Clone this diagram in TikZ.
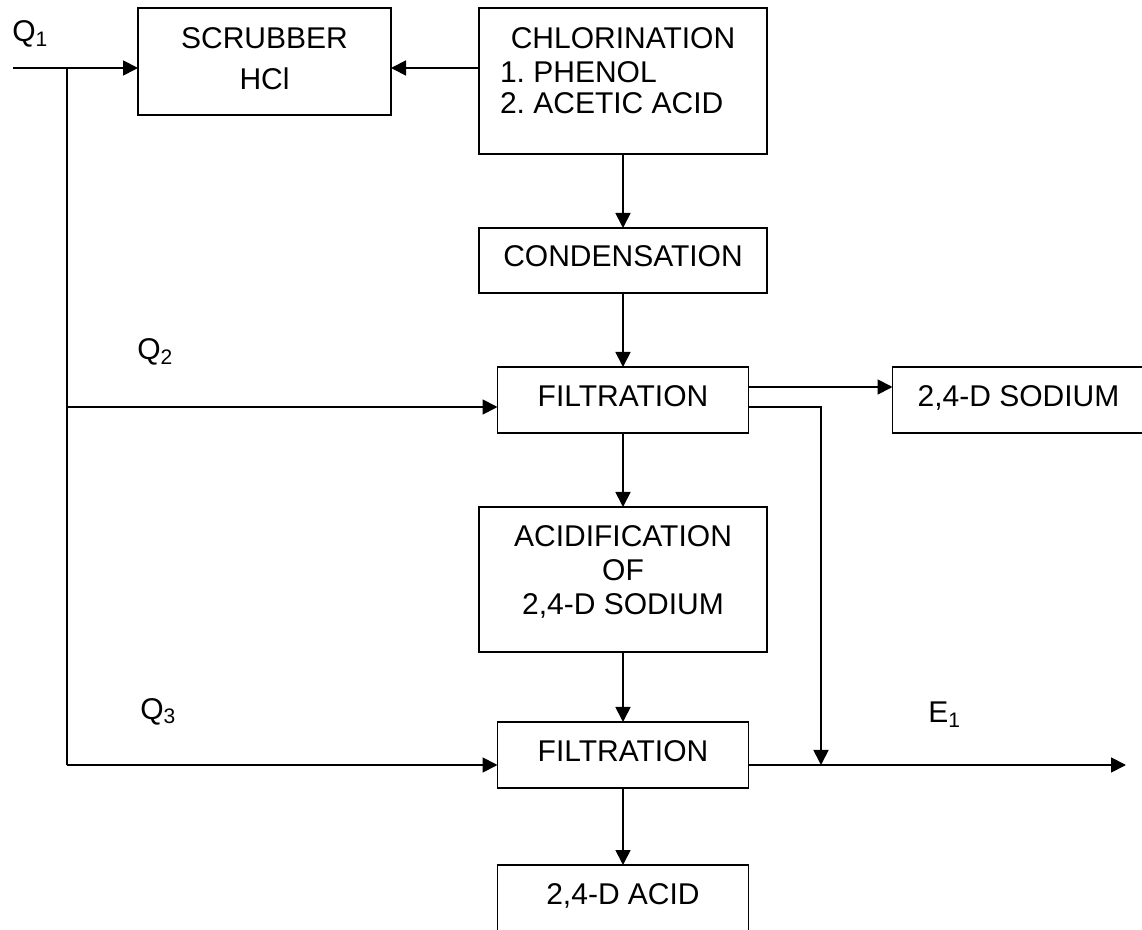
\documentclass[tikz,border=0pt]{standalone}
\usepackage{fontspec}
\setmainfont{Liberation Sans}
\usetikzlibrary{arrows.meta,positioning}
\frenchspacing

\begin{document}
\begin{tikzpicture}[
    x=0.5pt, y=-0.5pt,
    node distance=37pt,
    font=\fontsize{15pt}{17pt}\selectfont,
    block/.style={rectangle, draw, line width=0.9pt, outer sep=0pt, inner sep=0pt, align=center, text depth=4.25pt},
    wide/.style={minimum width=144pt},
    narrow/.style={minimum width=125.5pt, minimum height=33pt},
    arrow/.style={-{Triangle[length=7.5pt,width=7.5pt]}, line width=0.9pt},
    line/.style={line width=0.9pt},
    flow/.style={inner sep=0pt, anchor=base west}
]
    \useasboundingbox (0,0) rectangle (1142,930);
    \clip (0,0) rectangle (1142,930);

    \node[block, wide, minimum height=73pt, text depth=10.75pt] (chlor) at (623,81)
        {CHLORINATION\\\makebox[123pt][l]{1. PHENOL}\\[-1.5pt]\makebox[123pt][l]{2. ACETIC ACID}};
    \node[block, minimum width=126.5pt, minimum height=53.5pt, text depth=3.25pt,
          left=44pt of chlor.north west, anchor=north east] (scrub) {SCRUBBER\\[3.5pt]HCl};
    \node[block, wide, minimum height=32.5pt, below=of chlor] (cond) {CONDENSATION};
    \node[block, narrow, below=of cond] (filt1) {FILTRATION};
    \node[block, narrow, minimum width=126pt, right=72pt of filt1] (sodium) {2,4-D SODIUM};
    \node[block, wide, minimum height=72.5pt, text depth=9.75pt, below=of filt1] (acidif)
        {ACIDIFICATION\\OF\\2,4-D SODIUM};
    \node[block, narrow, below=35pt of acidif] (filt2) {FILTRATION};
    \node[block, narrow, below=38.5pt of filt2] (acid) {2,4-D ACID};

    % feed water
    \coordinate (q1in) at (13,68);
    \coordinate (jtop) at (67,68);
    \coordinate (jq2) at (67,407);
    \coordinate (jq3) at (67,765);
    \coordinate (drop) at (821,765);
    \coordinate (e1out) at (1126,765);

    \node[flow] (q1) at (12,42) {Q\textsubscript{1}};
    \node[flow] (q2) at (137,360) {Q\textsubscript{2}};
    \node[flow] (q3) at (140,719) {Q\textsubscript{3}};
    \node[flow] (e1) at (928,723) {E\textsubscript{1}};

    \draw[arrow] (q1in) -- (q1in -| scrub.west);
    \draw[line] (jtop) -- (jq3);
    \draw[arrow] (jq2) -- (jq2 -| filt1.west);
    \draw[arrow] (jq3) -- (jq3 -| filt2.west);
    \draw[arrow] (chlor.west |- q1in) -- (scrub.east |- q1in);

    \draw[arrow] (chlor) -- (cond);
    \draw[arrow] (cond) -- (filt1);
    \draw[arrow] (filt1) -- (acidif);
    \draw[arrow] (acidif) -- (filt2);
    \draw[arrow] (filt2) -- (acid);

    \draw[arrow] ([yshift=6.5pt]filt1.east) -- ([yshift=6.5pt]filt1.east -| sodium.west);
    \draw[arrow] ([yshift=-3.5pt]filt1.east) -| (drop);
    \draw[arrow] (jq3 -| filt2.east) -- (e1out);

\end{tikzpicture}
\end{document}
